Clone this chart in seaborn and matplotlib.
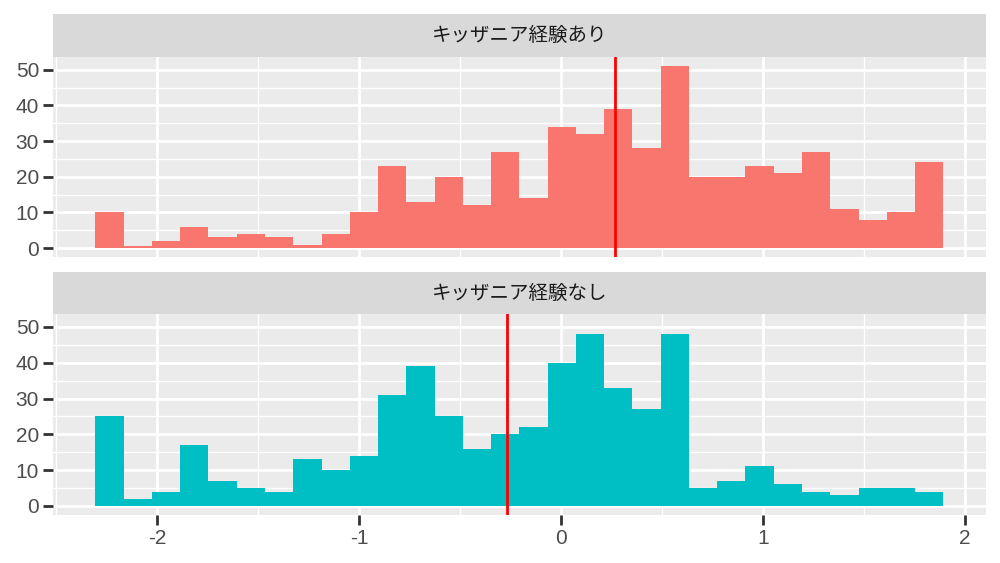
import matplotlib
matplotlib.use("Agg")
import matplotlib.pyplot as plt
import numpy as np
import pandas as pd
import seaborn as sns

sns.set_theme(style="darkgrid")
plt.rcParams['font.family'] = ['Liberation Sans', 'Noto Sans CJK JP', 'DejaVu Sans']

# facet labels
groups = ["キッザニア経験あり", "キッザニア経験なし"]

# histogram bins (30 bins)
bin_start = -2.307
bin_width = 0.14
n_bins = 30

# counts per bin
count_yes = [10, 0.5, 2, 6, 3, 4, 3, 1, 4, 10, 23, 13, 20, 12, 27,
             14, 34, 32, 39, 28, 51, 20, 20, 23, 21, 27, 11, 8, 10, 24]
count_no = [25, 2, 4, 17, 7, 5, 4, 13, 10, 14, 31, 39, 25, 16, 20,
            22, 40, 48, 33, 27, 48, 5, 7, 11, 6, 4, 3, 5, 5, 4]

# mean lines (red)
mean_yes = 0.266
mean_no = -0.266

x_ticks = [-2, -1, 0, 1, 2]
y_ticks = [0, 10, 20, 30, 40, 50]

fill_colors = ["#F8766D", "#00BFC4"]

edges = bin_start + bin_width * np.arange(n_bins + 1)
centers = (edges[:-1] + edges[1:]) / 2
df = pd.DataFrame({
    "x": np.concatenate([centers, centers]),
    "n": count_yes + count_no,
    "group": [groups[0]] * n_bins + [groups[1]] * n_bins,
})

fig = plt.figure(figsize=(10, 5.63), dpi=100)
fig.patch.set_facecolor("white")

ymax = max(max(count_yes), max(count_no))
xlo, xhi = edges[0], edges[-1]
xpad = (xhi - xlo) * 0.05
ypad = ymax * 0.05

panel_pos = [[0.053, 0.5430, 0.9327, 0.3558], [0.053, 0.0853, 0.9327, 0.3565]]
strip_pos = [[0.053, 0.8988, 0.9327, 0.0764], [0.053, 0.4417, 0.9327, 0.0746]]
means = [mean_yes, mean_no]

for i, g in enumerate(groups):
    ax = fig.add_axes(panel_pos[i])
    ax.set_facecolor("#EBEBEB")
    sub = df[df["group"] == g]
    sns.histplot(data=sub, x="x", weights="n", binwidth=bin_width,
                 binrange=(xlo, xhi), ax=ax,
                 color=fill_colors[i], alpha=1, linewidth=0, zorder=2)
    ax.axvline(means[i], color="#FF0000", lw=2, zorder=3)
    ax.set_xlim(xlo - xpad, xhi + xpad)
    ax.set_ylim(-ypad, ymax + ypad)
    ax.set_xticks(x_ticks)
    ax.set_yticks(y_ticks)
    ax.set_xticks([-2.5, -1.5, -0.5, 0.5, 1.5], minor=True)
    ax.set_yticks([5, 15, 25, 35, 45], minor=True)
    ax.grid(which="major", color="white", lw=2, zorder=0)
    ax.grid(which="minor", color="white", lw=1, zorder=0)
    ax.set_axisbelow(True)
    for s in ax.spines.values():
        s.set_visible(False)
    ax.set_xlabel("")
    ax.set_ylabel("")
    ax.tick_params(axis="y", which="major", length=7, width=2, color="#333333",
                   labelsize=15, labelcolor="#4D4D4D", pad=3, left=True)
    ax.tick_params(which="minor", length=0)
    if i == 0:
        ax.tick_params(axis="x", which="major", length=0, labelbottom=False)
    else:
        ax.tick_params(axis="x", which="major", length=7, width=2, color="#333333",
                       labelsize=15, labelcolor="#4D4D4D", pad=3, bottom=True)
        ax.set_xticklabels([str(t) for t in x_ticks])
    ax.set_yticklabels([str(t) for t in y_ticks])

    sax = fig.add_axes(strip_pos[i])
    sax.set_facecolor("#D9D9D9")
    sax.set_xticks([])
    sax.set_yticks([])
    for s in sax.spines.values():
        s.set_visible(False)
    sax.text(0.5, 0.5, g, ha="center", va="center", fontsize=14,
             color="#1A1A1A", family=["Noto Sans CJK JP", "DejaVu Sans"],
             transform=sax.transAxes)

fig.savefig("out.png", dpi=100)
